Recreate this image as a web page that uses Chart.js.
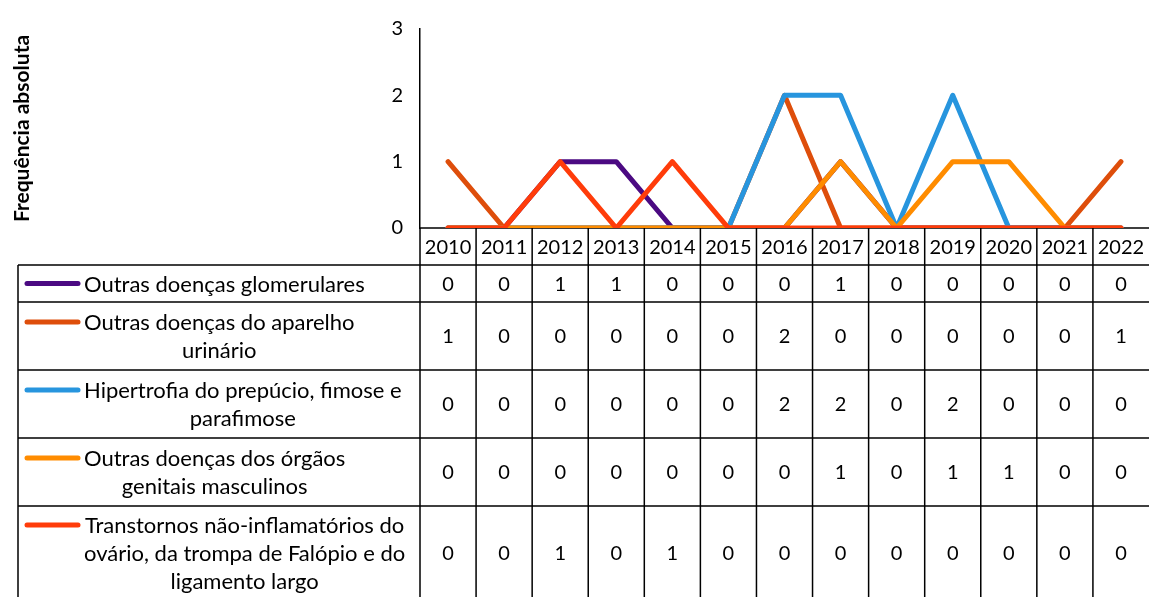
<!DOCTYPE html>
<html>
<head>
<meta charset="utf-8">
<script src="https://cdn.jsdelivr.net/npm/chart.js@4.4.1/dist/chart.umd.min.js"></script>
<style>
  html, body { margin: 0; padding: 0; background: #fff; }
  canvas { display: block; }
</style>
</head>
<body>
<canvas id="chart" width="1149" height="597"></canvas>
<script>
const years = ["2010", "2011", "2012", "2013", "2014", "2015", "2016", "2017", "2018", "2019", "2020", "2021", "2022"];
const glomerulares = [0, 0, 1, 1, 0, 0, 0, 1, 0, 0, 0, 0, 0];
const urinario = [1, 0, 0, 0, 0, 0, 2, 0, 0, 0, 0, 0, 1];
const fimose = [0, 0, 0, 0, 0, 0, 2, 2, 0, 2, 0, 0, 0];
const genitais = [0, 0, 0, 0, 0, 0, 0, 1, 0, 1, 1, 0, 0];
const ovario = [0, 0, 1, 0, 1, 0, 0, 0, 0, 0, 0, 0, 0];

// series names, already broken into the lines shown in the table
const seriesLines = [
  ["Outras doenças glomerulares"],
  ["Outras doenças do aparelho", "urinário"],
  ["Hipertrofia do prepúcio, fimose e", "parafimose"],
  ["Outras doenças dos órgãos", "genitais masculinos"],
  ["Transtornos não-inflamatórios do", "ovário, da trompa de Falópio e do", "ligamento largo"]
];
const seriesValues = [glomerulares, urinario, fimose, genitais, ovario];
const seriesColors = ["#4B0A82", "#DE4E0B", "#2795DE", "#FF8C00", "#FF3C0A"];
const yTicks = [0, 1, 2, 3];

const FONT = "Lato, 'Open Sans', sans-serif";
const rowEdges = [265, 302, 370, 438, 506, 600];
const tableLeft = 18;
const lineH = 28;

const dataTable = {
  id: "dataTable",
  beforeDatasetsDraw(chart) {
    const { ctx, chartArea: a, scales: { x } } = chart;
    const w = x.getPixelForValue(1) - x.getPixelForValue(0);
    const H = chart.height;
    ctx.save();
    ctx.strokeStyle = "#000";
    ctx.lineWidth = 1.5;
    ctx.beginPath();
    ctx.moveTo(a.left, a.bottom);
    ctx.lineTo(a.right, a.bottom);
    rowEdges.forEach(y => { ctx.moveTo(tableLeft, y); ctx.lineTo(a.right, y); });
    years.forEach((_, i) => {
      const xl = x.getPixelForValue(i) - w / 2;
      ctx.moveTo(xl, a.bottom);
      ctx.lineTo(xl, H);
    });
    ctx.moveTo(tableLeft, rowEdges[0]);
    ctx.lineTo(tableLeft, H);
    ctx.stroke();

    ctx.fillStyle = "#000";
    ctx.font = "20px " + FONT;
    ctx.textAlign = "center";
    ctx.textBaseline = "middle";
    years.forEach((yr, i) => {
      ctx.fillText(yr, x.getPixelForValue(i), (a.bottom + rowEdges[0]) / 2 + 1);
    });

    seriesValues.forEach((vals, r) => {
      const mid = (rowEdges[r] + rowEdges[r + 1]) / 2 + 1;
      ctx.font = "20px " + FONT;
      vals.forEach((v, i) => ctx.fillText(String(v), x.getPixelForValue(i), mid));

      ctx.font = "22px " + FONT;
      const lines = seriesLines[r];
      const firstY = mid - (lines.length - 1) * lineH / 2;
      const widths = lines.map(t => ctx.measureText(t).width);
      const blockW = Math.max(...widths);
      let left = 84;
      if (left + blockW > 416) left = 416 - blockW;
      lines.forEach((t, k) => {
        ctx.fillText(t, left + blockW / 2, firstY + k * lineH);
      });

      ctx.save();
      ctx.strokeStyle = seriesColors[r];
      ctx.lineWidth = 5;
      ctx.lineCap = "round";
      ctx.beginPath();
      ctx.moveTo(27, firstY - 1);
      ctx.lineTo(78, firstY - 1);
      ctx.stroke();
      ctx.restore();
    });
    ctx.restore();
  }
};

new Chart(document.getElementById("chart"), {
  type: "line",
  data: {
    labels: years,
    datasets: seriesValues.map((vals, i) => ({
      label: seriesLines[i].join(" "),
      data: vals,
      borderColor: seriesColors[i],
      backgroundColor: seriesColors[i],
      borderWidth: 5,
      borderCapStyle: "round",
      borderJoinStyle: "round",
      pointRadius: 0,
      tension: 0,
      order: seriesValues.length - i
    }))
  },
  options: {
    responsive: false,
    animation: false,
    layout: { padding: { left: 0, top: 26, right: 0, bottom: 369 } },
    plugins: {
      legend: { display: false },
      tooltip: { enabled: false }
    },
    scales: {
      x: {
        display: false,
        offset: true
      },
      y: {
        min: 0,
        max: 3,
        afterBuildTicks(s) { s.ticks = yTicks.map(v => ({ value: v })); },
        afterFit(s) { s.width = 420; },
        ticks: { color: "#000", font: { family: FONT, size: 20 }, padding: 17 },
        grid: { display: false, drawTicks: false },
        border: { display: true, color: "#000", width: 1.5 },
        title: {
          display: true,
          text: "Frequência absoluta",
          color: "#000",
          font: { family: FONT, size: 21, weight: "bold" },
          padding: { top: 10, bottom: 0 }
        }
      }
    }
  },
  plugins: [dataTable]
});
</script>
</body>
</html>
